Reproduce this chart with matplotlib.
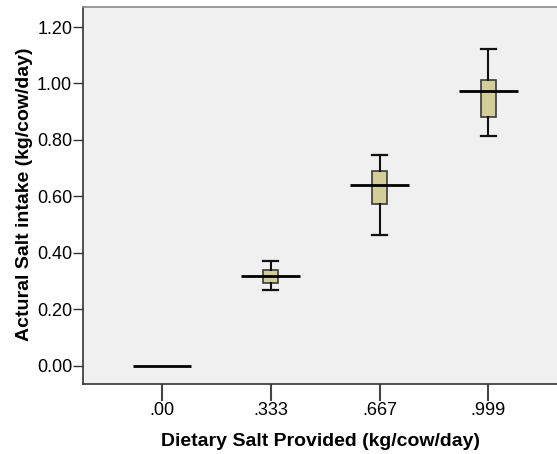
import numpy as np
import matplotlib.pyplot as plt

plt.rcParams['font.family'] = ['Liberation Sans', 'DejaVu Sans']

# salt provided groups and intake summaries (kg/cow/day)
groups = ['.00', '.333', '.667', '.999']
whis_lo = [0.0, 0.269, 0.463, 0.814]
q1 = [0.0, 0.292, 0.573, 0.882]
medians = [0.0, 0.319, 0.640, 0.973]
q3 = [0.0, 0.338, 0.689, 1.013]
whis_hi = [0.0, 0.372, 0.746, 1.123]

stats = []
for i in range(len(groups)):
    if q3[i] == q1[i]:
        continue  # no spread, only the median line is drawn
    stats.append(dict(med=medians[i], q1=q1[i], q3=q3[i],
                      whislo=whis_lo[i], whishi=whis_hi[i], fliers=[]))
pos = [i for i in range(len(groups)) if q3[i] != q1[i]]

fig = plt.figure(figsize=(5.57, 4.54), dpi=100)
ax = fig.add_axes([83.3 / 557, 1 - 384.3 / 454, 1 - 83.3 / 557, (384.3 - 7) / 454])
ax.set_facecolor('#f0f0f0')

ax.bxp(stats, positions=pos, widths=0.138, capwidths=0.138,
       patch_artist=True, showfliers=False,
       boxprops=dict(facecolor='#d3ce97', edgecolor='#3a3a3a', linewidth=1.2),
       whiskerprops=dict(color='#111111', linewidth=1.5),
       capprops=dict(color='#111111', linewidth=1.6),
       medianprops=dict(linewidth=0))

x = np.arange(len(groups))
ax.hlines(medians, x - 0.27, x + 0.27, colors='#000000', linewidth=2.0, zorder=5)

ax.set_xlim(-0.724, 3.63)
ax.set_ylim(-0.066, 1.271)
ax.set_xticks(x)
ax.set_xticklabels(groups)
ax.set_yticks(np.arange(0, 1.21, 0.2))
ax.set_yticklabels(['%.2f' % v for v in np.arange(0, 1.21, 0.2)])

ax.tick_params(axis='y', length=7, width=1, color='#333333', labelsize=13, pad=1)
ax.tick_params(axis='x', length=12, width=1.5, color='#444444', labelsize=13, pad=1)
for s in ['left', 'bottom']:
    ax.spines[s].set_color('#333333')
    ax.spines[s].set_linewidth(1.2)
ax.spines['top'].set_color('#888888')
ax.spines['top'].set_linewidth(1.2)
ax.spines['right'].set_visible(False)

ax.set_xlabel('Dietary Salt Provided (kg/cow/day)', fontsize=14, fontweight='bold', labelpad=10)
ax.set_ylabel('Actural Salt intake (kg/cow/day)', fontsize=14, fontweight='bold')
ax.yaxis.set_label_coords(-0.106, 0.503)

fig.savefig('out.png', dpi=100)
